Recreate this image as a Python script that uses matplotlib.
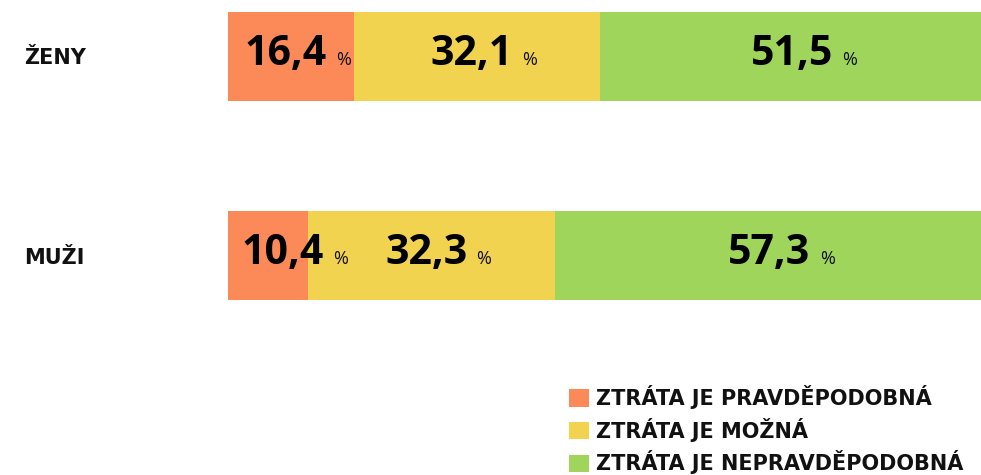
import matplotlib
matplotlib.use("Agg")
import matplotlib.pyplot as plt
from matplotlib.patches import Patch

categories = ["ŽENY", "MUŽI"]
series_names = ["ZTRÁTA JE PRAVDĚPODOBNÁ", "ZTRÁTA JE MOŽNÁ", "ZTRÁTA JE NEPRAVDĚPODOBNÁ"]
pravdepodobna = [16.4, 10.4]
mozna = [32.1, 32.3]
nepravdepodobna = [51.5, 57.3]
colors = ["#fb8a58", "#f1d350", "#a0d55c"]

plt.rcParams['font.family'] = ['DejaVu Sans']
NUMFONT = ['Open Sans', 'DejaVu Sans']
NUMSIZE = 29.5

W, H = 981, 475
fig = plt.figure(figsize=(W / 100, H / 100), dpi=100)
ax = fig.add_axes([228 / W, 1 - 300 / H, 766 / W, 288 / H])

series = [pravdepodobna, mozna, nepravdepodobna]
ypos = list(range(len(categories)))
left = [0.0] * len(categories)
segments = []
for vals, col, name in zip(series, colors, series_names):
    ax.barh(ypos, vals, left=left, height=0.445, color=col, label=name, linewidth=0)
    for i, v in enumerate(vals):
        segments.append((left[i], v, i))
    left = [l + v for l, v in zip(left, vals)]

ax.set_xlim(0, 100)
ax.set_ylim(1.2225, -0.2225)
ax.axis('off')

fig.canvas.draw()
renderer = fig.canvas.get_renderer()

for start, v, i in segments:
    cx = start + v / 2
    label = f"{v:.1f}".replace(".", ",")
    t = ax.annotate(label, xy=(cx, i), xytext=(-5, -8.5), textcoords='offset pixels',
                    ha='center', va='baseline', fontsize=NUMSIZE, fontweight='bold',
                    family=NUMFONT, color='black')
    bb = t.get_window_extent(renderer)
    w_num = bb.width
    cx_px = ax.transData.transform((cx, i))[0]
    start_px = ax.transData.transform((start, i))[0]
    dx = -5
    if cx_px + dx - w_num / 2 < start_px + 14:
        dx = start_px + 14 + w_num / 2 - cx_px
        t.remove()
        t = ax.annotate(label, xy=(cx, i), xytext=(dx, -8.5), textcoords='offset pixels',
                        ha='center', va='baseline', fontsize=NUMSIZE, fontweight='bold',
                        family=NUMFONT, color='black')
    ax.annotate("%", xy=(cx, i), xytext=(dx + w_num / 2 + 9, -8.5), textcoords='offset pixels',
                ha='left', va='baseline', fontsize=13, family=NUMFONT, color='#111111')

for i, c in enumerate(categories):
    ax.annotate(c, xy=(0, i), xytext=(-204, -8), textcoords='offset pixels',
                ha='left', va='baseline', fontsize=15, fontweight='bold',
                color='#111111', annotation_clip=False)

handles = [Patch(facecolor=c, edgecolor='none', label=n) for c, n in zip(colors, series_names)]
leg = fig.legend(handles=handles, loc='upper left', bbox_to_anchor=(569 / W, 1 - 385 / H),
                 frameon=False, prop=dict(size=15, weight='bold'),
                 handlelength=0.96, handleheight=0.92, handletextpad=0.34,
                 labelspacing=0.42, borderpad=0, borderaxespad=0)
for txt in leg.get_texts():
    txt.set_color('#111111')

fig.savefig("out.png", dpi=100)
